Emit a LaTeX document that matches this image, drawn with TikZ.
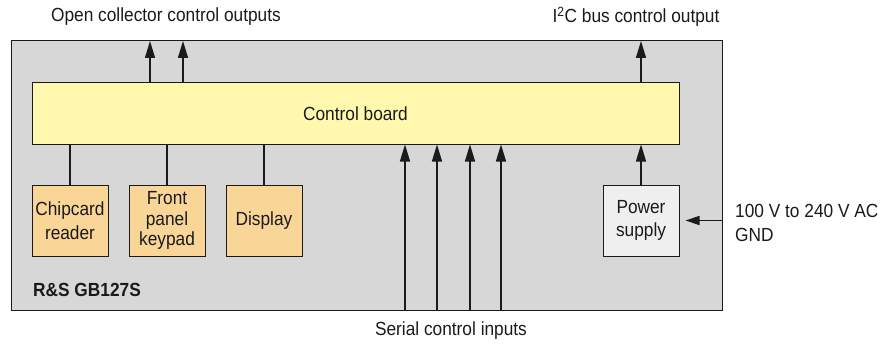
\documentclass[tikz,border=0pt]{standalone}
\usepackage{fontspec}
\setmainfont{Liberation Sans}[FakeStretch=0.91]
\usetikzlibrary{arrows.meta,calc}
\definecolor{housing}{HTML}{D7D7D7}
\definecolor{boardfill}{HTML}{FFF8AE}
\definecolor{unitfill}{HTML}{F9D598}
\definecolor{psfill}{HTML}{EFEFEF}
\definecolor{ink}{HTML}{1A1A1A}
\tikzset{
  every node/.style={font=\fontsize{19}{23.5}\selectfont, text=ink},
  frame/.style={draw=ink, line width=1pt, inner sep=0pt},
  unit/.style={frame, fill=unitfill, minimum width=76pt, minimum height=71pt, align=center},
  link/.style={draw=ink, line width=1.4pt},
  arr/.style={link, -{Triangle[length=17pt,width=10pt]}},
  smallarr/.style={link, -{Triangle[length=14pt,width=9pt]}},
  caption/.style={inner sep=0pt}
}
\begin{document}
\begin{tikzpicture}[x=1pt,y=-1pt]
\useasboundingbox (0,0) rectangle (887,345);

% housing and main board
\node[frame, fill=housing, minimum width=711pt, minimum height=269pt] (outer) at (366.5,175.5) {};
\node[frame, fill=boardfill, minimum width=647pt, minimum height=61pt] (board) at (355.5,113.5) {Control board};

% peripheral units
\node[unit] (chip) at (70,220.5) {Chipcard\\reader};
\node[unit] (front) at (167,220.5) {Front\\[-3pt]panel\\[-3pt]keypad};
\node[unit] (disp) at (264,220.5) {Display};
\node[unit, fill=psfill] (pwr) at (641,220.5) {Power\\supply};

\node[caption, anchor=west, font=\fontsize{19}{23}\selectfont\bfseries] (model) at (33,290) {R\&S GB127S};

% connections to units
\draw[link] (chip.north) -- (board.south -| chip.north);
\draw[link] (front.north) -- (board.south -| front.north);
\draw[link] (disp.north) -- (board.south -| disp.north);
\draw[arr] (pwr.north) -- (board.south -| pwr.north);

% outputs through the top of the housing
\coordinate (oc1) at (150,41);
\coordinate (oc2) at (183,41);
\coordinate (i2c) at (641,41);
\draw[arr] (board.north -| oc1) -- (oc1);
\draw[arr] (board.north -| oc2) -- (oc2);
\draw[arr] (board.north -| i2c) -- (i2c);

% serial inputs through the bottom
\coordinate (s1) at (405,310);
\coordinate (s2) at (437,310);
\coordinate (s3) at (470,310);
\coordinate (s4) at (501,310);
\foreach \s in {s1,s2,s3,s4}
  \draw[arr] (\s) -- (board.south -| \s);

% mains input
\coordinate (ac) at (outer.east |- pwr.east);
\draw[smallarr, shorten >=6pt] (ac) -- (pwr.east);

% labels
\node[caption] (oclabel) at (166,17) {Open collector control outputs};
\node[caption] (i2clabel) at (636,17) {I\textsuperscript{2}C bus control output};
\node[caption] (serlabel) at (451,331) {Serial control inputs};
\node[caption, anchor=west, align=left] (aclabel) at (735,223) {100 V to 240 V AC\\GND};
\end{tikzpicture}
\end{document}
